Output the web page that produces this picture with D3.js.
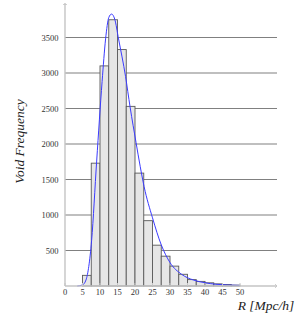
<!DOCTYPE html>
<html>
<head>
<meta charset="utf-8">
<script src="https://cdn.jsdelivr.net/npm/d3@7/dist/d3.min.js"></script>
<style>
  html, body { margin: 0; padding: 0; background: #fff; }
  svg { display: block; }
</style>
</head>
<body>
<script>
// ---- Data ----
const binLeft   = [5, 7.5, 10, 12.5, 15, 17.5, 20, 22.5, 25, 27.5, 30, 32.5, 35, 37.5, 40, 42.5, 45, 47.5];
const binRight  = [7.5, 10, 12.5, 15, 17.5, 20, 22.5, 25, 27.5, 30, 32.5, 35, 37.5, 40, 42.5, 45, 47.5, 50];
const counts    = [150, 1730, 3100, 3750, 3330, 2530, 1590, 920, 575, 420, 280, 165, 90, 65, 45, 30, 20, 12];

const fitR      = [3.5, 5, 6, 7.6, 9.05, 10.6, 11.6, 12.5, 13.3, 14.2, 15.3, 17.3, 18.6, 20.3, 21.5, 22.6, 25, 27.5, 30, 33.3, 36.7, 40, 43, 50];
const fitFreq   = [0, 15, 85, 640, 1760, 2880, 3480, 3780, 3830, 3760, 3480, 2950, 2520, 2020, 1680, 1400, 960, 580, 330, 165, 84, 46, 25, 8];

const xTicks = [0, 5, 10, 15, 20, 25, 30, 35, 40, 45, 50];
const yTicks = [500, 1000, 1500, 2000, 2500, 3000, 3500];
const xLabel = "R [Mpc/h]";
const yLabel = "Void Frequency";

// ---- Layout ----
const W = 305, H = 317;
const x = d3.scaleLinear().domain([0, 50]).range([65, 240]);
const y = d3.scaleLinear().domain([0, 3500]).range([286, 37.5]);
const xEnd = 277, yTop = 3;

const svg = d3.select("body").append("svg").attr("width", W).attr("height", H);

// gridlines
svg.append("g").selectAll("line").data(yTicks).join("line")
  .attr("x1", x(0)).attr("x2", xEnd)
  .attr("y1", d => y(d)).attr("y2", d => y(d))
  .attr("stroke", "#808080").attr("stroke-width", 1.2);

// bars
svg.append("g").selectAll("rect").data(counts).join("rect")
  .attr("x", (d, i) => x(binLeft[i]))
  .attr("width", (d, i) => x(binRight[i]) - x(binLeft[i]))
  .attr("y", d => y(d))
  .attr("height", d => y(0) - y(d))
  .attr("fill", "#e6e6e6")
  .attr("stroke", "#5a5a5a").attr("stroke-width", 0.9);

// fitted curve
const pts = fitR.map((r, i) => [r, fitFreq[i]]);
svg.append("path").datum(pts)
  .attr("d", d3.line().x(d => x(d[0])).y(d => y(d[1])).curve(d3.curveMonotoneX))
  .attr("fill", "none").attr("stroke", "#3a3aff").attr("stroke-width", 1);

// axes
const axisCol = "#c4c4c4";
svg.append("line").attr("x1", x(0)).attr("x2", x(0)).attr("y1", y(0)).attr("y2", yTop)
  .attr("stroke", axisCol).attr("stroke-width", 1.4);
svg.append("line").attr("x1", x(0) - 2).attr("x2", x(0) + 2).attr("y1", yTop + 1.5).attr("y2", yTop + 1.5)
  .attr("stroke", axisCol).attr("stroke-width", 0.8);
svg.append("line").attr("x1", x(0)).attr("x2", xEnd).attr("y1", y(0)).attr("y2", y(0))
  .attr("stroke", axisCol).attr("stroke-width", 1.4);
svg.append("path").attr("d", `M${xEnd - 2},${y(0) - 2}L${xEnd},${y(0)}L${xEnd - 2},${y(0) + 2}`)
  .attr("fill", "none").attr("stroke", axisCol).attr("stroke-width", 0.8);

// x ticks
svg.append("g").selectAll("line").data(xTicks).join("line")
  .attr("x1", d => x(d)).attr("x2", d => x(d))
  .attr("y1", y(0)).attr("y2", y(0) - 3)
  .attr("stroke", axisCol).attr("stroke-width", 1);

const tickFont = "'Liberation Serif', 'DejaVu Serif', serif";
svg.append("g").selectAll("text").data(xTicks).join("text")
  .attr("x", d => x(d)).attr("y", 295)
  .attr("text-anchor", "middle")
  .attr("font-family", tickFont).attr("font-size", 8.5).attr("fill", "#333")
  .text(d => d);

svg.append("g").selectAll("text").data(yTicks).join("text")
  .attr("x", 58.5).attr("y", d => y(d) + 3)
  .attr("text-anchor", "end")
  .attr("font-family", tickFont).attr("font-size", 8.5).attr("fill", "#333")
  .text(d => d);

// axis labels
svg.append("text")
  .attr("x", 266).attr("y", 310)
  .attr("text-anchor", "middle")
  .attr("font-family", tickFont).attr("font-style", "italic").attr("font-size", 13.5).attr("fill", "#222")
  .text(xLabel);

svg.append("text")
  .attr("transform", "translate(24,141.5) rotate(-90)")
  .attr("text-anchor", "middle")
  .attr("font-family", tickFont).attr("font-style", "italic").attr("font-size", 13.5).attr("fill", "#222")
  .text(yLabel);
</script>
</body>
</html>
